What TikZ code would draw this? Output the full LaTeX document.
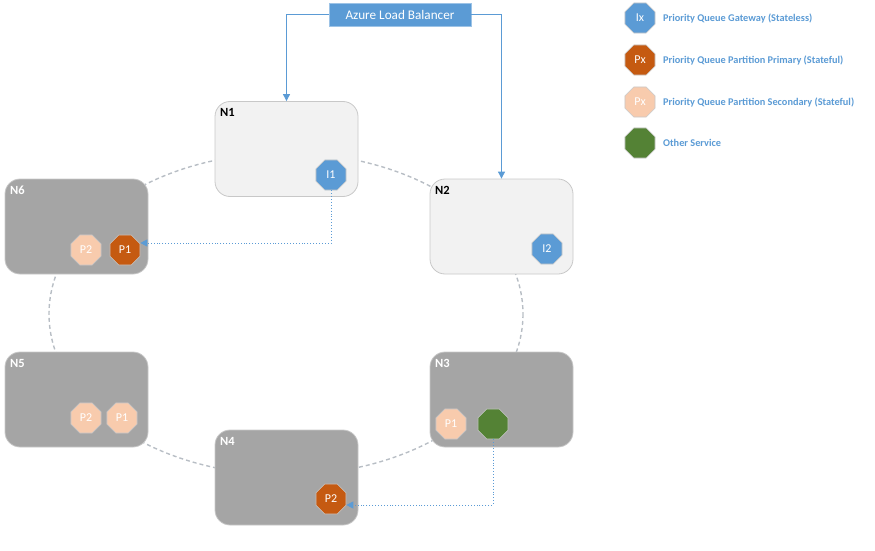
\documentclass[tikz,border=0pt]{standalone}
\usepackage{fontspec}
\setmainfont{Carlito}
\usetikzlibrary{shapes.geometric,arrows.meta}
\definecolor{azblue}{HTML}{5B9BD5}
\definecolor{porange}{HTML}{C55A11}
\definecolor{ppeach}{HTML}{F8CBAD}
\definecolor{ogreen}{HTML}{548235}
\definecolor{ngray}{HTML}{A5A5A5}
\definecolor{nlight}{HTML}{F2F2F2}
\definecolor{nborder}{HTML}{C8C8C8}
\definecolor{ringc}{HTML}{B8BEC5}
\tikzset{
  srvnode/.style={draw=nborder, line width=0.8pt, rounded corners=15pt, minimum width=143pt, minimum height=95pt, inner sep=0pt},
  lightnode/.style={srvnode, fill=nlight},
  darknode/.style={srvnode, fill=ngray},
  nlabel/.style={font=\bfseries\fontsize{12.5}{14}\selectfont, anchor=north west, inner sep=0pt},
  octa/.style={regular polygon, regular polygon sides=8, minimum size=32.5pt, inner sep=0pt, draw=nborder, line width=0.6pt, text=white, font=\fontsize{12}{14}\selectfont},
  gw/.style={octa, fill=azblue},
  prim/.style={octa, fill=porange},
  sec/.style={octa, fill=ppeach},
  oth/.style={octa, fill=ogreen},
  lbarrow/.style={draw=azblue, line width=0.9pt, -{Triangle[length=7pt,width=7pt]}},
  dotarrow/.style={draw=azblue, line width=0.9pt, dotted, -{Triangle[length=7pt,width=7pt]}},
  legtext/.style={text=azblue, anchor=west, inner sep=0pt, font=\bfseries\fontsize{10.3}{12}\selectfont},
}
\begin{document}
\begin{tikzpicture}[x=1pt,y=-1pt]
\useasboundingbox (0,0) rectangle (875,551);
% ring
\draw[ringc, line width=1.4pt, dash pattern=on 4pt off 3pt] (286,314) ellipse [x radius=237, y radius=161];
% server nodes
\node[lightnode] (n1) at (286.5,149) {};
\node[lightnode] (n2) at (501.5,226.5) {};
\node[darknode] (n3) at (501.5,399.5) {};
\node[darknode] (n4) at (286.5,477.5) {};
\node[darknode] (n5) at (76.5,399.5) {};
\node[darknode] (n6) at (76.5,226.5) {};
\node[nlabel, text=black] at (220,108) {N1};
\node[nlabel, text=black] at (435,186) {N2};
\node[nlabel, text=white] at (435,359) {N3};
\node[nlabel, text=white] at (220,437) {N4};
\node[nlabel, text=white] at (10,359) {N5};
\node[nlabel, text=white] at (10,186) {N6};
% services
\node[gw] (i1) at (331,175) {I1};
\node[gw] (i2) at (547,249) {I2};
\node[sec] (n6p2) at (86,250) {P2};
\node[prim] (n6p1) at (125,250) {P1};
\node[sec] (n5p2) at (86,418) {P2};
\node[sec] (n5p1) at (122,418) {P1};
\node[prim] (n4p2) at (331,499) {P2};
\node[sec] (n3p1) at (451,424) {P1};
\node[oth] (n3o) at (493,424) {};
% load balancer
\node[draw=azblue!60!white, fill=azblue, text=white, minimum width=142pt, minimum height=23pt, inner sep=0pt, font=\fontsize{13.2}{15}\selectfont] (lb) at (400,14.5) {Azure Load Balancer};
\draw[lbarrow] (lb.west) -| (n1.north);
\draw[lbarrow] (lb.east) -| (n2.north);
% replication arrows
\coordinate (c1) at (i1.south |- 0,243);
\draw[dotarrow] (i1.south) -- (c1) -- (n6p1.east |- c1);
\coordinate (c2) at (n3o.south |- 0,505);
\draw[dotarrow] (n3o.south) -- (c2) -- (n4p2.east |- c2);
% legend
\node[gw] (lg1) at (640,18) {Ix};
\node[prim] (lg2) at (640,60) {Px};
\node[sec] (lg3) at (640,102) {Px};
\node[oth] (lg4) at (640,143) {};
\node[legtext] at (663,18) {Priority Queue Gateway (Stateless)};
\node[legtext] at (663,60) {Priority Queue Partition Primary (Stateful)};
\node[legtext] at (663,102) {Priority Queue Partition Secondary (Stateful)};
\node[legtext] at (663,143) {Other Service};
\end{tikzpicture}
\end{document}
